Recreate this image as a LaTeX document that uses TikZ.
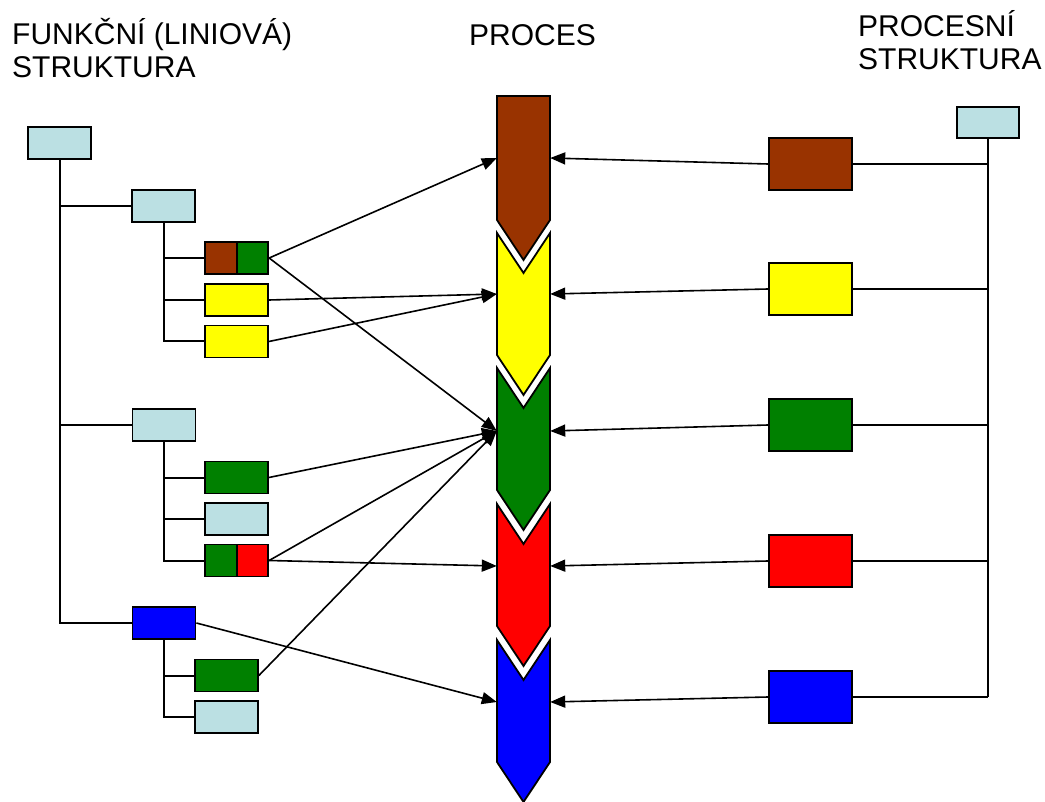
\documentclass[tikz,border=0pt]{standalone}
\usepackage{fontspec}
\setmainfont{Liberation Sans}
\usetikzlibrary{arrows.meta}

\definecolor{cbrown}{RGB}{153,51,0}
\definecolor{cyellow}{RGB}{255,255,0}
\definecolor{cgreen}{RGB}{0,128,0}
\definecolor{cred}{RGB}{255,0,0}
\definecolor{cblue}{RGB}{0,0,255}
\definecolor{clight}{RGB}{187,224,227}

\tikzset{
  unit/.style={draw=black, line width=1.8pt, inner sep=0pt, minimum width=63pt, minimum height=32pt},
  half/.style={draw=black, line width=1.8pt, inner sep=0pt, minimum width=31.5pt, minimum height=32pt},
  pbox/.style={draw=black, line width=1.8pt, inner sep=0pt, minimum width=83pt, minimum height=52pt},
  slot/.style={inner sep=0pt, minimum width=53pt, minimum height=122pt},
  chev/.style={draw=black, line width=1.8pt, line join=miter},
  tree/.style={line width=2pt},
  flow/.style={line width=1.6pt, -{Triangle[length=15pt,width=12pt]}},
  title/.style={font=\fontsize{30}{30}\selectfont, inner sep=0pt, anchor=base west}
}

\begin{document}
\begin{tikzpicture}[x=1pt, y=-1pt]
\useasboundingbox (0,0) rectangle (1045,802);

% headings
\node[title] (h1) at (12,45) {FUNKČNÍ (LINIOVÁ)};
\node[title] (h2) at (12,78) {STRUKTURA};
\node[title] (h3) at (469,46) {PROCES};
\node[title] (h4) at (858,37) {PROCESNÍ};
\node[title] (h5) at (858,70) {STRUKTURA};

% process chevrons
\fill[cbrown, chev] (497,96) -- (550,96) -- (550,220) -- (523.5,260) -- (497,220) -- cycle;
\foreach \t/\c in {233/cyellow, 368/cgreen, 504/cred, 640/cblue}{
  \fill[\c, chev] (497,\t) -- (523.5,\t+40) -- (550,\t) -- (550,\t+122)
        -- (523.5,\t+162) -- (497,\t+122) -- cycle;
}
\node[slot] (p1) at (523.5,158) {};
\node[slot] (p2) at (523.5,294) {};
\node[slot] (p3) at (523.5,431) {};
\node[slot] (p4) at (523.5,566) {};
\node[slot] (p5) at (523.5,702) {};

% process structure
\node[unit, fill=clight, minimum width=62pt, minimum height=31pt] (rt) at (988,122.5) {};
\node[pbox, fill=cbrown]  (r1) at (810.5,164) {};
\node[pbox, fill=cyellow] (r2) at (810.5,289) {};
\node[pbox, fill=cgreen]  (r3) at (810.5,425) {};
\node[pbox, fill=cred]    (r4) at (810.5,561) {};
\node[pbox, fill=cblue]   (r5) at (810.5,697) {};
\draw[tree] (rt.south) -- (rt.south |- r5.east);
\foreach \r in {r1,r2,r3,r4,r5}{
  \draw[tree] (\r.east) -- (\r.east -| rt.south);
}
\draw[flow] (r1.west) -- (p1.east);
\draw[flow] (r2.west) -- (p2.east);
\draw[flow] (r3.west) -- (p3.east);
\draw[flow] (r4.west) -- (p4.east);
\draw[flow] (r5.west) -- (p5.east);

% functional (line) structure
\node[unit, fill=clight] (L0) at (59.5,143) {};
\node[unit, fill=clight] (L1) at (163.5,206) {};
\node[unit, fill=clight] (L2) at (164,425) {};
\node[unit, fill=cblue]  (L3) at (164,623) {};
\draw[tree] (L0.south) |- (L3.west);
\draw[tree] (L0.south |- L1.west) -- (L1.west);
\draw[tree] (L0.south |- L2.west) -- (L2.west);

\node[half, fill=cbrown]  (a1l) at (221,258) {};
\node[half, fill=cgreen]  (a1r) at (252.5,258) {};
\node[unit, fill=cyellow] (a2) at (236.5,300) {};
\node[unit, fill=cyellow] (a3) at (236.5,341.5) {};
\draw[tree] (L1.south) |- (a3.west);
\draw[tree] (L1.south |- a1l.west) -- (a1l.west);
\draw[tree] (L1.south |- a2.west) -- (a2.west);

\node[unit, fill=cgreen] (b1) at (236.5,477.5) {};
\node[unit, fill=clight] (b2) at (236.5,519) {};
\node[half, fill=cgreen] (b3l) at (221,560.5) {};
\node[half, fill=cred]   (b3r) at (252.5,560.5) {};
\draw[tree] (L2.south) |- (b3l.west);
\draw[tree] (L2.south |- b1.west) -- (b1.west);
\draw[tree] (L2.south |- b2.west) -- (b2.west);

\node[unit, fill=cgreen] (c1) at (226.5,675.5) {};
\node[unit, fill=clight] (c2) at (226.5,717) {};
\draw[tree] (L3.south) |- (c2.west);
\draw[tree] (L3.south |- c1.west) -- (c1.west);

% links from units to process steps
\draw[flow] (a1r.east) -- (p1.west);
\draw[flow] (a1r.east) -- (p3.west);
\draw[flow] (a2.east) -- (p2.west);
\draw[flow] (a3.east) -- (p2.west);
\draw[flow] (b1.east) -- (p3.west);
\draw[flow] (b3r.east) -- (p3.west);
\draw[flow] (b3r.east) -- (p4.west);
\draw[flow] (L3.east) -- (p5.west);
\draw[flow] (c1.east) -- (p3.west);
\end{tikzpicture}
\end{document}
